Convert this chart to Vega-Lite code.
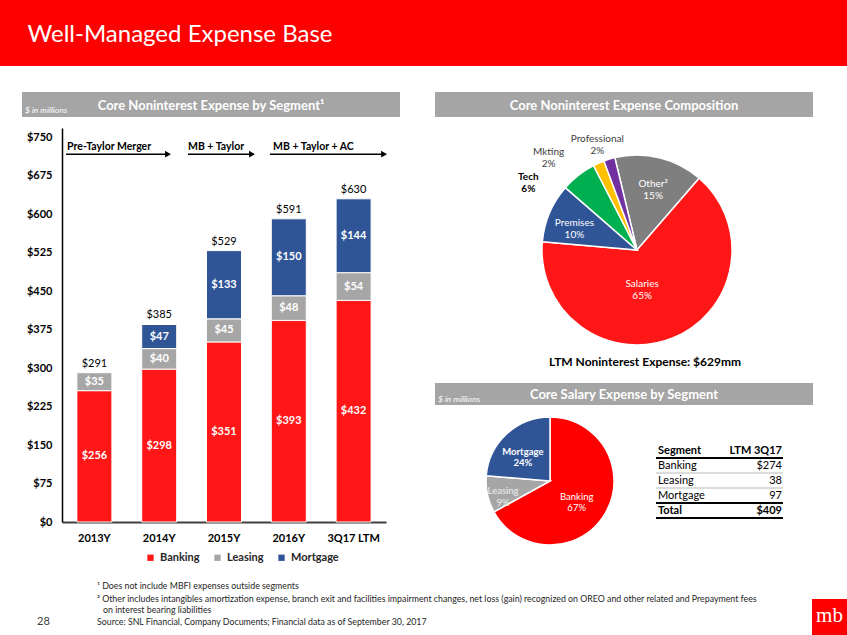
{
  "$schema": "https://vega.github.io/schema/vega-lite/v6.json",
  "padding": 0,
  "background": "white",
  "spacing": 0,
  "config": {"view": {"stroke": null}, "font": "Lato", "concat": {"spacing": 0}},
  "resolve": {"scale": {"color": "independent", "theta": "independent"}, "legend": {"color": "independent"}},
  "datasets": {
    "one": [{}],
    "bars": [
      {"year": "2013Y", "segment": "Banking", "value": 256},
      {"year": "2013Y", "segment": "Leasing", "value": 35},
      {"year": "2014Y", "segment": "Banking", "value": 298},
      {"year": "2014Y", "segment": "Leasing", "value": 40},
      {"year": "2014Y", "segment": "Mortgage", "value": 47},
      {"year": "2015Y", "segment": "Banking", "value": 351},
      {"year": "2015Y", "segment": "Leasing", "value": 45},
      {"year": "2015Y", "segment": "Mortgage", "value": 133},
      {"year": "2016Y", "segment": "Banking", "value": 393},
      {"year": "2016Y", "segment": "Leasing", "value": 48},
      {"year": "2016Y", "segment": "Mortgage", "value": 150},
      {"year": "3Q17 LTM", "segment": "Banking", "value": 432},
      {"year": "3Q17 LTM", "segment": "Leasing", "value": 54},
      {"year": "3Q17 LTM", "segment": "Mortgage", "value": 144}
    ],
    "comp": [
      {"cat": "Other", "value": 95, "k": 1, "label": "Other²\n15%"},
      {"cat": "Salaries", "value": 409, "k": 2, "label": "Salaries\n65%"},
      {"cat": "Premises", "value": 63, "k": 3, "label": "Premises\n10%"},
      {"cat": "Tech", "value": 38, "k": 4, "label": "Tech\n6%"},
      {"cat": "Mkting", "value": 12, "k": 5, "label": "Mkting\n2%"},
      {"cat": "Professional", "value": 12, "k": 6, "label": "Professional\n2%"}
    ],
    "sal": [
      {"cat": "Banking", "value": 274, "k": 1, "label": "Banking\n67%"},
      {"cat": "Leasing", "value": 38, "k": 2, "label": "Leasing\n9%"},
      {"cat": "Mortgage", "value": 97, "k": 3, "label": "Mortgage\n24%"}
    ],
    "table": [
      {"row": "Header", "segment": "Segment", "ltm": "LTM 3Q17"},
      {"row": "Banking", "segment": "Banking", "ltm": "$274"},
      {"row": "Leasing", "segment": "Leasing", "ltm": "38"},
      {"row": "Mortgage", "segment": "Mortgage", "ltm": "97"},
      {"row": "Total", "segment": "Total", "ltm": "$409"}
    ]
  },
  "vconcat": [
    {
      "width": 847, "height": 66,
      "view": {"fill": "#ff0000", "stroke": null},
      "data": {"name": "one"},
      "mark": {"type": "text", "text": "Well-Managed Expense Base", "color": "white", "fontSize": 24, "align": "left", "baseline": "alphabetic", "dx": -396, "dy": 9},
      "encoding": {}
    },
    {
      "resolve": {"scale": {"color": "independent", "theta": "independent"}, "legend": {"color": "independent"}},
      "hconcat": [
        {
          "vconcat": [
            {"width": 420, "height": 26, "data": {"name": "one"}, "mark": {"type": "text", "text": ""}, "encoding": {}},
            {
              "hconcat": [
                {"width": 22, "height": 25, "data": {"name": "one"}, "mark": {"type": "text", "text": ""}, "encoding": {}},
                {
                  "width": 378, "height": 25,
                  "view": {"fill": "#a5a5a5", "stroke": null},
                  "data": {"name": "one"},
                  "layer": [
                    {"mark": {"type": "text", "text": "Core Noninterest Expense by Segment¹", "color": "white", "fontSize": 13, "fontWeight": "bold", "dy": 1}, "encoding": {}},
                    {"mark": {"type": "text", "text": "$ in millions", "color": "white", "fontSize": 8.5, "fontStyle": "italic", "align": "left", "dx": -186, "dy": 5}, "encoding": {}}
                  ]
                }
              ]
            },
            {
              "width": 420, "height": 453,
              "layer": [
                {
                  "data": {"name": "bars"},
                  "mark": {"type": "bar", "stroke": "white", "strokeWidth": 1},
                  "encoding": {
                    "x": {"field": "year", "type": "nominal", "sort": null,
                      "scale": {"domain": ["2013Y", "2014Y", "2015Y", "2016Y", "3Q17 LTM"], "range": [62, 386], "paddingInner": 0.46, "paddingOuter": 0.23},
                      "axis": {"orient": "bottom", "offset": -48, "title": null, "labelAngle": 0, "ticks": false, "domainColor": "#404040", "domainWidth": 2, "labelFontSize": 11, "labelFontWeight": "bold", "labelColor": "#000000", "labelPadding": 10}},
                    "y": {"field": "value", "type": "quantitative", "stack": "zero",
                      "scale": {"domain": [0, 768], "range": [405, 11], "nice": false, "zero": true},
                      "axis": {"orient": "left", "offset": -62, "title": null, "values": [0, 75, 150, 225, 300, 375, 450, 525, 600, 675, 750], "format": "$,.0f", "ticks": false, "grid": false, "domainColor": "#000000", "domainWidth": 1.5, "labelFontSize": 11, "labelFontWeight": "bold", "labelColor": "#000000", "labelPadding": 10}},
                    "color": {"field": "segment", "type": "nominal",
                      "scale": {"domain": ["Banking", "Leasing", "Mortgage"], "range": ["#ff1616", "#a6a6a6", "#2f5597"]},
                      "legend": {"orient": "none", "legendX": 145, "legendY": 486, "direction": "horizontal", "title": null, "symbolType": "square", "symbolSize": 40, "symbolStrokeWidth": 0, "labelFontSize": 11, "labelFontWeight": "bold", "labelColor": "#262626", "columnPadding": 12, "labelOffset": 4}},
                    "order": {"field": "segment", "type": "nominal", "sort": "ascending"}
                  }
                },
                {
                  "data": {"name": "bars"},
                  "mark": {"type": "text", "color": "white", "fontSize": 11, "fontWeight": "bold"},
                  "encoding": {
                    "x": {"field": "year", "type": "nominal"},
                    "y": {"field": "value", "type": "quantitative", "stack": "zero", "bandPosition": 0.5},
                    "detail": {"field": "segment", "type": "nominal"},
                    "order": {"field": "segment", "type": "nominal", "sort": "ascending"},
                    "text": {"field": "value", "type": "quantitative", "format": "$,.0f"}
                  }
                },
                {
                  "data": {"name": "bars"},
                  "mark": {"type": "text", "color": "#000000", "fontSize": 11, "baseline": "bottom", "dy": -4},
                  "encoding": {
                    "x": {"field": "year", "type": "nominal"},
                    "y": {"aggregate": "sum", "field": "value", "type": "quantitative"},
                    "text": {"aggregate": "sum", "field": "value", "type": "quantitative", "format": "$,.0f"}
                  }
                },
                {
                  "data": {"name": "one"},
                  "mark": {"type": "rule", "strokeWidth": 1.5, "color": "#000000"},
                  "encoding": {"x": {"datum": "2013Y", "bandPosition": -0.31}, "x2": {"datum": "2014Y", "bandPosition": 0.8}, "y": {"datum": 717}}
                },
                {
                  "data": {"name": "one"},
                  "mark": {"type": "point", "shape": "triangle-right", "filled": true, "color": "#000000", "size": 45, "opacity": 1},
                  "encoding": {"x": {"datum": "2014Y", "bandPosition": 0.75}, "y": {"datum": 717}}
                },
                {
                  "data": {"name": "one"},
                  "mark": {"type": "text", "text": "Pre-Taylor Merger", "align": "left", "baseline": "bottom", "dy": -2, "fontWeight": "bold", "fontSize": 10.5, "color": "#000000"},
                  "encoding": {"x": {"datum": "2013Y", "bandPosition": -0.28}, "y": {"datum": 717}}
                },
                {
                  "data": {"name": "one"},
                  "mark": {"type": "rule", "strokeWidth": 1.5, "color": "#000000"},
                  "encoding": {"x": {"datum": "2015Y", "bandPosition": -0.53}, "x2": {"datum": "2015Y", "bandPosition": 1.35}, "y": {"datum": 717}}
                },
                {
                  "data": {"name": "one"},
                  "mark": {"type": "point", "shape": "triangle-right", "filled": true, "color": "#000000", "size": 45, "opacity": 1},
                  "encoding": {"x": {"datum": "2015Y", "bandPosition": 1.3}, "y": {"datum": 717}}
                },
                {
                  "data": {"name": "one"},
                  "mark": {"type": "text", "text": "MB + Taylor", "align": "left", "baseline": "bottom", "dy": -2, "fontWeight": "bold", "fontSize": 10.5, "color": "#000000"},
                  "encoding": {"x": {"datum": "2015Y", "bandPosition": -0.53}, "y": {"datum": 717}}
                },
                {
                  "data": {"name": "one"},
                  "mark": {"type": "rule", "strokeWidth": 1.5, "color": "#000000"},
                  "encoding": {"x": {"datum": "2016Y", "bandPosition": -0.04}, "x2": {"datum": "3Q17 LTM", "bandPosition": 1.42}, "y": {"datum": 717}}
                },
                {
                  "data": {"name": "one"},
                  "mark": {"type": "point", "shape": "triangle-right", "filled": true, "color": "#000000", "size": 45, "opacity": 1},
                  "encoding": {"x": {"datum": "3Q17 LTM", "bandPosition": 1.37}, "y": {"datum": 717}}
                },
                {
                  "data": {"name": "one"},
                  "mark": {"type": "text", "text": "MB + Taylor + AC", "align": "left", "baseline": "bottom", "dy": -2, "fontWeight": "bold", "fontSize": 10.5, "color": "#000000"},
                  "encoding": {"x": {"datum": "2016Y", "bandPosition": 0.05}, "y": {"datum": 717}}
                }
              ]
            }
          ]
        },
        {
          "resolve": {"scale": {"color": "independent", "theta": "independent"}, "legend": {"color": "independent"}},
          "vconcat": [
            {"width": 427, "height": 26, "data": {"name": "one"}, "mark": {"type": "text", "text": ""}, "encoding": {}},
            {
              "hconcat": [
                {"width": 15, "height": 25, "data": {"name": "one"}, "mark": {"type": "text", "text": ""}, "encoding": {}},
                {
                  "width": 378, "height": 25,
                  "view": {"fill": "#a5a5a5", "stroke": null},
                  "data": {"name": "one"},
                  "mark": {"type": "text", "text": "Core Noninterest Expense Composition", "color": "white", "fontSize": 13, "fontWeight": "bold", "dy": 1},
                  "encoding": {}
                }
              ]
            },
            {
              "hconcat": [
                {"width": 7, "height": 266, "data": {"name": "one"}, "mark": {"type": "text", "text": ""}, "encoding": {}},
                {
                  "width": 420, "height": 266,
                  "layer": [
                    {
                      "data": {"name": "comp"},
                      "mark": {"type": "arc", "outerRadius": 95, "stroke": "white", "strokeWidth": 1.5},
                      "encoding": {
                        "theta": {"field": "value", "type": "quantitative", "stack": true, "scale": {"range": [-0.2356, 6.0476]}},
                        "order": {"field": "k", "type": "quantitative"},
                        "color": {"field": "cat", "type": "nominal", "legend": null,
                          "scale": {"domain": ["Other", "Salaries", "Premises", "Tech", "Mkting", "Professional"], "range": ["#7f7f7f", "#ff1616", "#2f5597", "#00b050", "#ffc000", "#7030a0"]}}
                      }
                    },
                    {
                      "data": {"name": "comp"},
                      "mark": {"type": "text", "radius": 68, "color": "white", "fontSize": 10, "lineBreak": "\n"},
                      "encoding": {
                        "theta": {"field": "value", "type": "quantitative", "stack": true},
                        "order": {"field": "k", "type": "quantitative"},
                        "text": {"condition": {"test": "datum.cat === 'Other' || datum.cat === 'Premises'", "field": "label"}, "value": ""}
                      }
                    },
                    {
                      "data": {"name": "comp"},
                      "mark": {"type": "text", "radius": 35, "dx": -8, "dy": 2, "color": "white", "fontSize": 10, "lineBreak": "\n"},
                      "encoding": {
                        "theta": {"field": "value", "type": "quantitative", "stack": true},
                        "order": {"field": "k", "type": "quantitative"},
                        "text": {"condition": {"test": "datum.cat === 'Salaries'", "field": "label"}, "value": ""}
                      }
                    },
                    {
                      "data": {"name": "comp"},
                      "mark": {"type": "text", "radius": 95, "dx": -50, "dy": 2, "color": "#000000", "fontWeight": "bold", "fontSize": 10, "lineBreak": "\n"},
                      "encoding": {
                        "theta": {"field": "value", "type": "quantitative", "stack": true},
                        "order": {"field": "k", "type": "quantitative"},
                        "text": {"condition": {"test": "datum.cat === 'Tech'", "field": "label"}, "value": ""}
                      }
                    },
                    {
                      "data": {"name": "comp"},
                      "mark": {"type": "text", "radius": 95, "dx": -50, "dy": -11, "color": "#404040", "fontSize": 10, "lineBreak": "\n"},
                      "encoding": {
                        "theta": {"field": "value", "type": "quantitative", "stack": true},
                        "order": {"field": "k", "type": "quantitative"},
                        "text": {"condition": {"test": "datum.cat === 'Mkting'", "field": "label"}, "value": ""}
                      }
                    },
                    {
                      "data": {"name": "comp"},
                      "mark": {"type": "text", "radius": 95, "dx": -12, "dy": -20, "color": "#404040", "fontSize": 10, "lineBreak": "\n"},
                      "encoding": {
                        "theta": {"field": "value", "type": "quantitative", "stack": true},
                        "order": {"field": "k", "type": "quantitative"},
                        "text": {"condition": {"test": "datum.cat === 'Professional'", "field": "label"}, "value": ""}
                      }
                    },
                    {
                      "data": {"name": "one"},
                      "mark": {"type": "text", "text": "LTM Noninterest Expense: $629mm", "fontWeight": "bold", "fontSize": 12, "color": "#000000", "dx": 8, "dy": 112},
                      "encoding": {}
                    }
                  ]
                }
              ]
            },
            {
              "hconcat": [
                {"width": 15, "height": 22, "data": {"name": "one"}, "mark": {"type": "text", "text": ""}, "encoding": {}},
                {
                  "width": 378, "height": 22,
                  "view": {"fill": "#a5a5a5", "stroke": null},
                  "data": {"name": "one"},
                  "layer": [
                    {"mark": {"type": "text", "text": "Core Salary Expense by Segment", "color": "white", "fontSize": 13, "fontWeight": "bold", "dy": 1}, "encoding": {}},
                    {"mark": {"type": "text", "text": "$ in millions", "color": "white", "fontSize": 8.5, "fontStyle": "italic", "align": "left", "dx": -186, "dy": 5}, "encoding": {}}
                  ]
                }
              ]
            },
            {
              "resolve": {"scale": {"color": "independent", "theta": "independent"}, "legend": {"color": "independent"}},
              "hconcat": [
                {"width": 48, "height": 165, "data": {"name": "one"}, "mark": {"type": "text", "text": ""}, "encoding": {}},
                {
                  "width": 164, "height": 152,
                  "data": {"name": "sal"},
                  "layer": [
                    {
                      "mark": {"type": "arc", "outerRadius": 64, "stroke": "white", "strokeWidth": 1.5},
                      "encoding": {
                        "theta": {"field": "value", "type": "quantitative", "stack": true},
                        "order": {"field": "k", "type": "quantitative"},
                        "color": {"field": "cat", "type": "nominal", "legend": null,
                          "scale": {"domain": ["Banking", "Leasing", "Mortgage"], "range": ["#ff0000", "#a6a6a6", "#2f5597"]}}
                      }
                    },
                    {
                      "mark": {"type": "text", "radius": 31, "color": "white", "fontSize": 9.5, "lineBreak": "\n"},
                      "encoding": {
                        "theta": {"field": "value", "type": "quantitative", "stack": true},
                        "order": {"field": "k", "type": "quantitative"},
                        "text": {"condition": {"test": "datum.cat === 'Banking'", "field": "label"}, "value": ""}
                      }
                    },
                    {
                      "mark": {"type": "text", "radius": 48, "color": "#eeeeee", "fontSize": 9.5, "lineBreak": "\n"},
                      "encoding": {
                        "theta": {"field": "value", "type": "quantitative", "stack": true},
                        "order": {"field": "k", "type": "quantitative"},
                        "text": {"condition": {"test": "datum.cat === 'Leasing'", "field": "label"}, "value": ""}
                      }
                    },
                    {
                      "mark": {"type": "text", "radius": 40, "color": "white", "fontSize": 9.5, "fontWeight": "bold", "lineBreak": "\n"},
                      "encoding": {
                        "theta": {"field": "value", "type": "quantitative", "stack": true},
                        "order": {"field": "k", "type": "quantitative"},
                        "text": {"condition": {"test": "datum.cat === 'Mortgage'", "field": "label"}, "value": ""}
                      }
                    }
                  ]
                },
                {
                  "width": 215, "height": 165,
                  "data": {"name": "table"},
                  "encoding": {
                    "y": {"field": "row", "type": "nominal", "axis": null,
                      "scale": {"type": "band", "domain": ["Header", "Banking", "Leasing", "Mortgage", "Total"], "range": [38, 113], "paddingInner": 0, "paddingOuter": 0}}
                  },
                  "layer": [
                    {
                      "mark": {"type": "rule", "color": "#000000"},
                      "encoding": {
                        "y": {"field": "row", "type": "nominal", "bandPosition": 1},
                        "x": {"datum": "left", "type": "nominal", "axis": null, "scale": {"type": "point", "domain": ["left", "right"], "range": [24, 151], "padding": 0}},
                        "x2": {"datum": "right"},
                        "strokeWidth": {"condition": {"test": "datum.row === 'Banking' || datum.row === 'Leasing'", "value": 0.75}, "value": 2},
                        "color": {"condition": {"test": "datum.row === 'Banking' || datum.row === 'Leasing'", "value": "#a0a0a0"}, "value": "#000000"}
                      }
                    },
                    {
                      "transform": [{"filter": "datum.row !== 'Header' && datum.row !== 'Total'"}],
                      "mark": {"type": "text", "align": "left", "dx": 2, "fontSize": 11, "color": "#000000"},
                      "encoding": {"x": {"datum": "left", "type": "nominal"}, "text": {"field": "segment"}}
                    },
                    {
                      "transform": [{"filter": "datum.row === 'Header' || datum.row === 'Total'"}],
                      "mark": {"type": "text", "align": "left", "dx": 2, "fontSize": 11, "fontWeight": "bold", "color": "#000000"},
                      "encoding": {"x": {"datum": "left", "type": "nominal"}, "text": {"field": "segment"}}
                    },
                    {
                      "transform": [{"filter": "datum.row !== 'Header' && datum.row !== 'Total'"}],
                      "mark": {"type": "text", "align": "right", "dx": -1, "fontSize": 11, "color": "#000000"},
                      "encoding": {"x": {"datum": "right", "type": "nominal"}, "text": {"field": "ltm"}}
                    },
                    {
                      "transform": [{"filter": "datum.row === 'Header' || datum.row === 'Total'"}],
                      "mark": {"type": "text", "align": "right", "dx": -1, "fontSize": 11, "fontWeight": "bold", "color": "#000000"},
                      "encoding": {"x": {"datum": "right", "type": "nominal"}, "text": {"field": "ltm"}}
                    }
                  ]
                }
              ]
            }
          ]
        }
      ]
    },
    {
      "hconcat": [
        {
          "width": 812, "height": 65,
          "data": {"name": "one"},
          "layer": [
            {"mark": {"type": "text", "text": "¹ Does not include MBFI expenses outside segments", "align": "left", "baseline": "middle", "fontSize": 8.8, "color": "#262626", "dx": -309, "dy": -16.5}, "encoding": {}},
            {"mark": {"type": "text", "text": "² Other includes intangibles amortization expense, branch exit and facilities impairment changes, net loss (gain) recognized on OREO and other related and Prepayment fees", "align": "left", "baseline": "middle", "fontSize": 8.8, "color": "#262626", "dx": -309, "dy": -3.5}, "encoding": {}},
            {"mark": {"type": "text", "text": "on interest bearing liabilities", "align": "left", "baseline": "middle", "fontSize": 8.8, "color": "#262626", "dx": -303, "dy": 7.5}, "encoding": {}},
            {"mark": {"type": "text", "text": "Source: SNL Financial, Company Documents; Financial data as of September 30, 2017", "align": "left", "baseline": "middle", "fontSize": 8.8, "color": "#262626", "dx": -309, "dy": 19.5}, "encoding": {}},
            {"mark": {"type": "text", "text": "28", "align": "left", "baseline": "middle", "fontSize": 11, "color": "#404040", "dx": -369, "dy": 19.5}, "encoding": {}}
          ]
        },
        {
          "vconcat": [
            {"width": 35, "height": 29, "data": {"name": "one"}, "mark": {"type": "text", "text": ""}, "encoding": {}},
            {
              "width": 35, "height": 36,
              "view": {"fill": "#ff0000", "stroke": null},
              "data": {"name": "one"},
              "mark": {"type": "text", "text": "mb", "font": "Liberation Serif", "fontSize": 21, "color": "white", "dy": -1},
              "encoding": {}
            }
          ]
        }
      ]
    }
  ]
}
